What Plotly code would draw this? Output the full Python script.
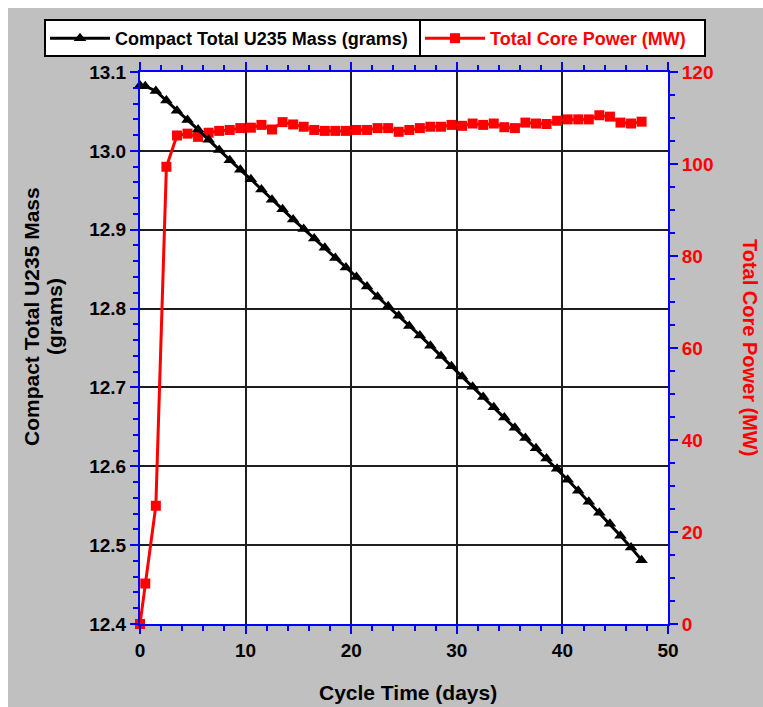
import plotly.graph_objects as go

# ---- data ----
cycle_days = [0, 0.5, 1.5, 2.5, 3.5, 4.5, 5.5, 6.5, 7.5, 8.5, 9.5,
              10.5, 11.5, 12.5, 13.5, 14.5, 15.5, 16.5, 17.5, 18.5, 19.5,
              20.5, 21.5, 22.5, 23.5, 24.5, 25.5, 26.5, 27.5, 28.5, 29.5,
              30.5, 31.5, 32.5, 33.5, 34.5, 35.5, 36.5, 37.5, 38.5, 39.5,
              40.5, 41.5, 42.5, 43.5, 44.5, 45.5, 46.5, 47.5]

u235_mass = [13.083, 13.082, 13.076, 13.064, 13.051, 13.039, 13.027, 13.014, 13.001, 12.988, 12.976,
             12.964, 12.951, 12.938, 12.926, 12.913, 12.901, 12.889, 12.877, 12.864, 12.852,
             12.840, 12.828, 12.815, 12.803, 12.791, 12.778, 12.766, 12.753, 12.740, 12.727,
             12.714, 12.701, 12.688, 12.675, 12.662, 12.649, 12.636, 12.623, 12.610, 12.597,
             12.583, 12.569, 12.555, 12.541, 12.527, 12.512, 12.497, 12.481]

core_power = [0.0, 8.8, 25.7, 99.4, 106.2, 106.6, 105.9, 106.8, 107.2, 107.4, 107.8,
              107.9, 108.5, 107.5, 109.1, 108.6, 108.1, 107.4, 107.2, 107.2, 107.2,
              107.4, 107.4, 107.8, 107.8, 107.0, 107.4, 107.8, 108.1, 108.1, 108.5,
              108.3, 108.8, 108.5, 108.8, 108.0, 107.8, 109.0, 108.8, 108.7, 109.4,
              109.7, 109.7, 109.7, 110.6, 110.3, 109.0, 108.8, 109.2]

mass_name = "Compact Total U235 Mass (grams)"
power_name = "Total Core Power (MW)"
x_title = "Cycle Time (days)"
left_title_l1 = "Compact Total U235 Mass"
left_title_l2 = "(grams)"
right_title = "Total Core Power (MW)"

# ---- styling ----
FONT = "Liberation Sans, Arial, sans-serif"
BLUE = "#0000FF"
RED = "#FF0000"
GRID = "#1e1e1e"
W, H = 763, 707
L, R, T, B = 140, 95, 72, 83
PW, PH = W - L - R, H - T - B


def px_x(p):
    return (p - L) / PW


def px_y(q):
    return (H - B - q) / PH


fig = go.Figure()

fig.add_trace(go.Scatter(
    x=cycle_days, y=u235_mass, name=mass_name, yaxis="y2",
    mode="lines+markers",
    line=dict(color="black", width=3),
    marker=dict(symbol="triangle-up", size=11, color="black"),
    cliponaxis=False, legendwidth=300,
))
fig.add_trace(go.Scatter(
    x=cycle_days, y=core_power, name=f"<span style='color:{RED}'>{power_name}</span>",
    yaxis="y", mode="lines+markers",
    line=dict(color=RED, width=3),
    marker=dict(symbol="square", size=10, color=RED),
    cliponaxis=False, legendwidth=210,
))

tickfont = dict(family=FONT, size=19, color="black", weight="bold")

fig.update_layout(
    width=W, height=H, autosize=False,
    margin=dict(l=L, r=R, t=T, b=B, pad=0),
    paper_bgcolor="#C0C0C0",
    plot_bgcolor="white",
    xaxis=dict(
        range=[0, 50], tick0=0, dtick=10, anchor="y",
        showline=True, linecolor=BLUE, linewidth=2, mirror="ticks",
        ticks="outside", ticklen=8, tickwidth=2, tickcolor=BLUE,
        minor=dict(dtick=2, ticks="outside", ticklen=5, tickwidth=1.5, tickcolor=BLUE, showgrid=False),
        showgrid=True, gridcolor=GRID, gridwidth=1.5, zeroline=False,
        tickfont=tickfont,
    ),
    yaxis=dict(
        side="right", range=[0, 120], tick0=0, dtick=20,
        showline=True, linecolor=BLUE, linewidth=2,
        ticks="outside", ticklen=8, tickwidth=2, tickcolor=BLUE,
        minor=dict(dtick=5, ticks="outside", ticklen=5, tickwidth=1.5, tickcolor=BLUE, showgrid=False),
        showgrid=False, zeroline=False,
        tickfont=dict(family=FONT, size=19, color=RED, weight="bold"),
    ),
    yaxis2=dict(
        side="left", overlaying="y", range=[12.4, 13.1], tick0=12.4, dtick=0.1, tickformat=".1f",
        showline=True, linecolor=BLUE, linewidth=2,
        ticks="outside", ticklen=8, tickwidth=2, tickcolor=BLUE,
        minor=dict(dtick=0.02, ticks="outside", ticklen=5, tickwidth=1.5, tickcolor=BLUE, showgrid=False),
        showgrid=True, gridcolor=GRID, gridwidth=1.5, zeroline=False,
        tickfont=tickfont,
    ),
    legend=dict(
        orientation="h", x=px_x(45), y=px_y(20), xanchor="left", yanchor="top",
        bgcolor="rgba(0,0,0,0)", borderwidth=0, itemwidth=60,
        font=dict(family=FONT, size=18, color="black", weight="bold"),
        tracegroupgap=0, itemsizing="trace",
    ),
    showlegend=True,
)

# white page margin around the gray panel, legend box and divider
fig.add_shape(type="rect", xref="paper", yref="paper",
              x0=px_x(-5), x1=px_x(W + 5), y0=px_y(8), y1=px_y(-5),
              fillcolor="white", line=dict(width=0), layer="above")
fig.add_shape(type="rect", xref="paper", yref="paper",
              x0=px_x(-5), x1=px_x(8), y0=px_y(H + 5), y1=px_y(-5),
              fillcolor="white", line=dict(width=0), layer="above")
fig.add_shape(type="rect", xref="paper", yref="paper",
              x0=px_x(45), x1=px_x(705), y0=px_y(56), y1=px_y(20),
              fillcolor="white", line=dict(color="black", width=2), layer="below")
fig.add_shape(type="line", xref="paper", yref="paper",
              x0=px_x(420), x1=px_x(420), y0=px_y(56), y1=px_y(20),
              line=dict(color="black", width=2), layer="above")

title_font = dict(family=FONT, size=21, color="black", weight="bold")
fig.add_annotation(text=x_title, xref="paper", yref="paper", x=px_x(408), y=px_y(692),
                   showarrow=False, font=title_font, xanchor="center", yanchor="middle")
fig.add_annotation(text=left_title_l1, xref="paper", yref="paper", x=px_x(31), y=px_y(317),
                   showarrow=False, font=title_font, textangle=-90, xanchor="center", yanchor="middle")
fig.add_annotation(text=left_title_l2, xref="paper", yref="paper", x=px_x(54), y=px_y(317),
                   showarrow=False, font=title_font, textangle=-90, xanchor="center", yanchor="middle")
fig.add_annotation(text=right_title, xref="paper", yref="paper", x=px_x(750), y=px_y(347),
                   showarrow=False, font=dict(family=FONT, size=20, color=RED, weight="bold"),
                   textangle=90, xanchor="center", yanchor="middle")

fig.write_html("out.html")
